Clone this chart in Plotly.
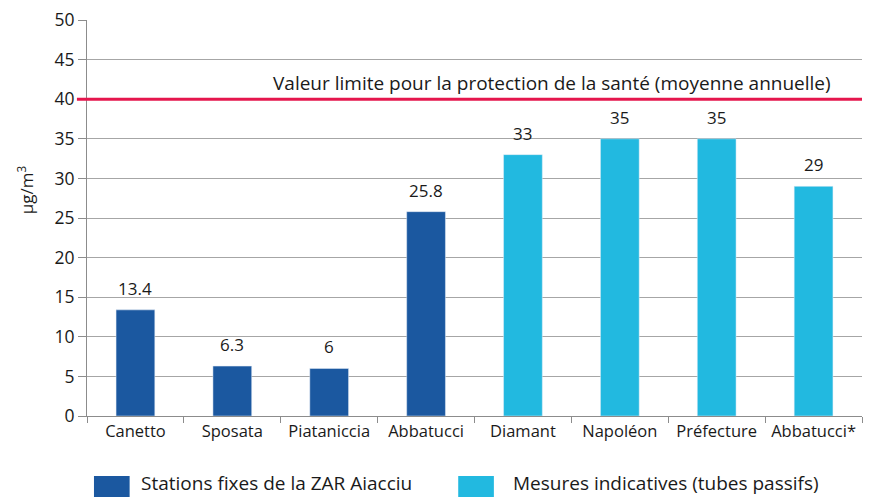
import plotly.graph_objects as go

# Annual mean concentrations (µg/m³)
fixed_sites = ["Canetto", "Sposata", "Piataniccia", "Abbatucci"]
fixed_values = [13.4, 6.3, 6.0, 25.8]
tube_sites = ["Diamant", "Napoléon", "Préfecture", "Abbatucci*"]
tube_values = [33, 35, 35, 29]
limit_value = 40

fixed_name = "Stations fixes de la ZAR Aiacciu"
tube_name = "Mesures indicatives (tubes passifs)"
limit_label = "Valeur limite pour la protection de la santé (moyenne annuelle)"
unit_label = "µg/m<sup>3</sup>"

dark_blue = "#1b58a0"
light_blue = "#22b9e0"
limit_red = "#e5164d"
text_color = "#1a1a1a"
font_family = "'Open Sans', Lato, sans-serif"

def fmt(v):
    return f"{v:g}"

fig = go.Figure()
for sites, values, name, color in [
    (fixed_sites, fixed_values, fixed_name, dark_blue),
    (tube_sites, tube_values, tube_name, light_blue),
]:
    fig.add_trace(go.Bar(
        x=sites, y=values, name=name,
        marker_color=color, width=0.4, showlegend=False,
    ))
    # Value labels above each bar
    for s, v in zip(sites, values):
        fig.add_annotation(x=s, y=v, text=fmt(v), showarrow=False,
                           xanchor="center", yanchor="bottom", yshift=8,
                           font=dict(size=17, color=text_color))

# Limit line
fig.add_shape(type="line", xref="paper", yref="y", x0=-0.013, x1=1,
              y0=limit_value, y1=limit_value,
              line=dict(color=limit_red, width=3), layer="above")
fig.add_annotation(xref="paper", yref="y", x=0.962, y=limit_value,
                   text=limit_label, showarrow=False, xanchor="right",
                   yanchor="bottom", yshift=1,
                   font=dict(size=19, color=text_color))

# Unit label on the value axis
fig.add_annotation(xref="paper", yref="paper", x=-0.08, y=0.57,
                   text=unit_label, showarrow=False, textangle=-90,
                   xanchor="center", yanchor="middle",
                   font=dict(size=17, color=text_color))

# Legend drawn with swatches below the axis
legend_items = [(fixed_name, dark_blue, 0.009, 0.067),
                (tube_name, light_blue, 0.479, 0.547)]
for name, color, x0, xt in legend_items:
    fig.add_shape(type="rect", xref="paper", yref="paper",
                  x0=x0, x1=x0 + 0.046, y0=-0.205, y1=-0.1515,
                  fillcolor=color, line=dict(width=0))
    fig.add_annotation(xref="paper", yref="paper", x=xt, y=-0.168,
                       text=name, showarrow=False, xanchor="left",
                       yanchor="middle", font=dict(size=19, color=text_color))

fig.update_layout(
    width=873, height=497,
    margin=dict(l=87, r=11, t=20, b=81),
    paper_bgcolor="white", plot_bgcolor="white",
    font=dict(family=font_family, size=17, color=text_color),
    bargap=0.6,
    xaxis=dict(
        categoryorder="array", categoryarray=fixed_sites + tube_sites,
        showline=True, linecolor="#8c8c8c", linewidth=1,
        ticks="outside", tickson="boundaries", ticklen=6,
        tickcolor="#8c8c8c", tickfont=dict(size=16.5), tickangle=0,
        showgrid=False, fixedrange=True, automargin=False,
    ),
    yaxis=dict(
        range=[0, 50], dtick=5, tick0=0,
        showline=True, linecolor="#8c8c8c", linewidth=1,
        ticks="outside", ticklen=8, tickcolor="#8c8c8c",
        showgrid=True, gridcolor="#a6a6a6", gridwidth=1,
        zeroline=False, tickfont=dict(size=17.5),
        fixedrange=True, automargin=False,
    ),
)

fig.write_html("out.html")
